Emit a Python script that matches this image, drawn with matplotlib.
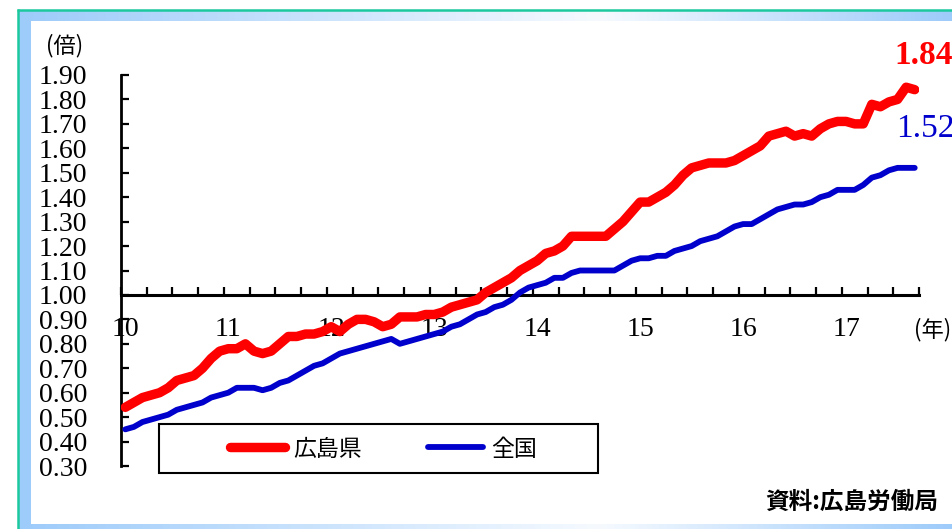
import numpy as np
import matplotlib
matplotlib.use("Agg")
import matplotlib.pyplot as plt
from matplotlib.patches import Rectangle

# ---------------- data ----------------
year_labels = ["10", "11", "12", "13", "14", "15", "16", "17"]
hiroshima = [
    0.54, 0.56, 0.58, 0.59, 0.60, 0.62, 0.65, 0.66, 0.67, 0.70, 0.74, 0.77,
    0.78, 0.78, 0.80, 0.77, 0.76, 0.77, 0.80, 0.83, 0.83, 0.84, 0.84, 0.85,
    0.87, 0.85, 0.88, 0.90, 0.90, 0.89, 0.87, 0.88, 0.91, 0.91, 0.91, 0.92,
    0.92, 0.93, 0.95, 0.96, 0.97, 0.98, 1.01, 1.03, 1.05, 1.07, 1.10, 1.12,
    1.14, 1.17, 1.18, 1.20, 1.24, 1.24, 1.24, 1.24, 1.24, 1.27, 1.30, 1.34,
    1.38, 1.38, 1.40, 1.42, 1.45, 1.49, 1.52, 1.53, 1.54, 1.54, 1.54, 1.55,
    1.57, 1.59, 1.61, 1.65, 1.66, 1.67, 1.65, 1.66, 1.65, 1.68, 1.70, 1.71,
    1.71, 1.70, 1.70, 1.78, 1.77, 1.79, 1.80, 1.85, 1.84,
]
national = [
    0.45, 0.46, 0.48, 0.49, 0.50, 0.51, 0.53, 0.54, 0.55, 0.56, 0.58, 0.59,
    0.60, 0.62, 0.62, 0.62, 0.61, 0.62, 0.64, 0.65, 0.67, 0.69, 0.71, 0.72,
    0.74, 0.76, 0.77, 0.78, 0.79, 0.80, 0.81, 0.82, 0.80, 0.81, 0.82, 0.83,
    0.84, 0.85, 0.87, 0.88, 0.90, 0.92, 0.93, 0.95, 0.96, 0.98, 1.01, 1.03,
    1.04, 1.05, 1.07, 1.07, 1.09, 1.10, 1.10, 1.10, 1.10, 1.10, 1.12, 1.14,
    1.15, 1.15, 1.16, 1.16, 1.18, 1.19, 1.20, 1.22, 1.23, 1.24, 1.26, 1.28,
    1.29, 1.29, 1.31, 1.33, 1.35, 1.36, 1.37, 1.37, 1.38, 1.40, 1.41, 1.43,
    1.43, 1.43, 1.45, 1.48, 1.49, 1.51, 1.52, 1.52, 1.52,
]
series_names = ["広島県", "全国"]
y_ticks = [0.30, 0.40, 0.50, 0.60, 0.70, 0.80, 0.90, 1.00, 1.10, 1.20,
           1.30, 1.40, 1.50, 1.60, 1.70, 1.80, 1.90]

months = np.arange(len(hiroshima))

W, H = 952, 529
fig = plt.figure(figsize=(W / 100, H / 100), dpi=100)
fig.patch.set_facecolor("white")

CJK = ["Noto Sans CJK JP", "DejaVu Sans"]
SERIF = ["Liberation Serif", "DejaVu Serif"]


def fx(x):
    return x / W


def fy(y):
    return 1 - y / H


# ---------------- background frame ----------------
bg = fig.add_axes([0, 0, 1, 1], zorder=-10)
bg.set_xlim(0, W)
bg.set_ylim(H, 0)
bg.axis("off")
blue_band = np.array([157, 203, 250]) / 255
light = np.array([246, 250, 255]) / 255
xs = np.linspace(0, 1, 400)
xpos = 19 + xs * (W - 19)
t = np.where(xpos < 600, (600 - xpos) / (600 - 19), (xpos - 600) / (W - 600))
grad = light[None, :] * (1 - t[:, None]) + blue_band[None, :] * t[:, None]
grad = grad[None, :, :]
bg.add_patch(Rectangle((31, 21), W - 31, 503, facecolor="white", edgecolor="none"))
bg.imshow(grad, extent=(19, W, 21, 10.5), aspect="auto", interpolation="bilinear")
bg.imshow(grad, extent=(19, W, H, 524), aspect="auto", interpolation="bilinear")
bg.add_patch(Rectangle((18.5, 10.5), 12.5, H - 10.5, facecolor=blue_band, edgecolor="none"))
bg.plot([17.5, 17.5], [9, H], color="#1CC89E", lw=1.8, solid_capstyle="butt")
bg.plot([17, W], [9.5, 9.5], color="#1CC89E", lw=1.8, solid_capstyle="butt")
bg.set_xlim(0, W)
bg.set_ylim(H, 0)

# ---------------- main axes ----------------
left, right, top, bottom = 121, 919, 75, 466
ax = fig.add_axes([fx(left), fy(bottom), fx(right) - fx(left), fy(top) - fy(bottom)])
ax.patch.set_alpha(0)

l1, = ax.plot(months, hiroshima, color="#FF0000", lw=6.8, solid_capstyle="round",
              solid_joinstyle="round", zorder=4, label=series_names[0])
l2, = ax.plot(months, national, color="#0000CC", lw=4.2, solid_capstyle="round",
              solid_joinstyle="round", zorder=3, label=series_names[1])

ax.set_xlim(-0.5, len(hiroshima) - 0.5)
ax.set_ylim(0.30, 1.90)

for s in ["top", "right"]:
    ax.spines[s].set_visible(False)
ax.spines["left"].set_linewidth(2.0)
ax.spines["bottom"].set_linewidth(2.2)
ax.spines["bottom"].set_position(("data", 1.0))
ax.spines["left"].set_zorder(2)
ax.spines["bottom"].set_zorder(2)

ax.set_yticks(y_ticks)
ax.set_yticklabels([f"{v:.2f}" for v in y_ticks])
ax.tick_params(axis="y", direction="in", length=6, width=1.6, pad=24.5,
               labelsize=20)

ax.set_xticks(np.arange(0, len(hiroshima), 12)[:len(year_labels)])
ax.set_xticklabels(year_labels)
ax.set_xticks(np.arange(-0.5, len(hiroshima), 3), minor=True)
ax.tick_params(axis="x", which="major", length=0, pad=16, labelsize=20)
ax.tick_params(axis="x", which="minor", direction="in", length=6, width=1.6)
for lab in ax.get_xticklabels() + ax.get_yticklabels():
    lab.set_fontfamily(SERIF)

# ---------------- legend ----------------
frame = Rectangle((fx(159), fy(473)), fx(598) - fx(159), fy(424) - fy(473),
                  transform=fig.transFigure, facecolor="white",
                  edgecolor="black", lw=1.5, zorder=5, clip_on=False)
ax.add_artist(frame)
leg = ax.legend(handles=[l1, l2], loc="center left", ncol=2, frameon=False,
                bbox_to_anchor=(fx(230), fy(449)), bbox_transform=fig.transFigure,
                borderpad=0, borderaxespad=0, handlelength=2.4, handletextpad=0.35,
                columnspacing=2.9, prop={"family": CJK, "size": 16.5})
leg.set_zorder(6)

# ---------------- texts ----------------
fig.text(fx(65), fy(46), "(倍)", ha="center", va="center", fontsize=16, family=CJK)
fig.text(fx(914), fy(330), "(年)", ha="left", va="center", fontsize=16, family=CJK)
fig.text(fx(894), fy(55), f"{hiroshima[-1]:.2f}", ha="left", va="center",
         fontsize=24, fontweight="bold", color="#FF0000", family=SERIF)
fig.text(fx(896), fy(129), f"{national[-1]:.2f}", ha="left", va="center",
         fontsize=24, color="#0000CC", family=SERIF)
fig.text(fx(938), fy(502), "資料:広島労働局", ha="right", va="center",
         fontsize=17, fontweight="bold", family=CJK)

fig.savefig("out.png", dpi=100)
